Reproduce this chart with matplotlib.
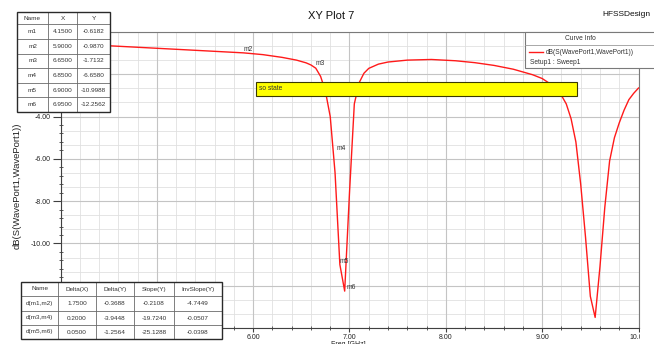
import matplotlib
matplotlib.use('Agg')
import numpy as np
import matplotlib.pyplot as plt
from matplotlib.patches import Rectangle
from matplotlib.ticker import MultipleLocator, FormatStrFormatter

plt.rcParams['font.family'] = ['Liberation Sans', 'DejaVu Sans']

# ---- data -------------------------------------------------------------
freq = [4.00, 4.15, 4.50, 5.00, 5.50, 5.90, 6.10, 6.30, 6.45, 6.55, 6.60, 6.65,
        6.70, 6.75, 6.80, 6.85, 6.90, 6.95, 7.00, 7.05, 7.10, 7.15, 7.20, 7.30,
        7.40, 7.60, 7.85, 8.10, 8.30, 8.50, 8.70, 8.90, 9.00, 9.10, 9.20, 9.25,
        9.30, 9.35, 9.40, 9.45, 9.50, 9.55, 9.60, 9.65, 9.70, 9.75, 9.80, 9.85,
        9.90, 9.95, 10.00]
s11 = [-0.60, -0.618, -0.65, -0.77, -0.89, -0.987, -1.07, -1.20, -1.33, -1.46, -1.56, -1.713,
       -2.10, -2.80, -4.00, -6.658, -10.999, -12.256, -7.60, -3.40, -2.40, -1.95, -1.72, -1.52,
       -1.42, -1.33, -1.30, -1.36, -1.45, -1.58, -1.76, -2.02, -2.20, -2.50, -3.00, -3.40,
       -4.10, -5.20, -7.20, -9.70, -12.50, -13.50, -11.10, -8.30, -6.10, -5.00, -4.30, -3.70,
       -3.20, -2.90, -2.65]

marker_names = ['m1', 'm2', 'm3', 'm4', 'm5', 'm6']
marker_x = [4.15, 5.90, 6.65, 6.85, 6.90, 6.95]
marker_y = [-0.6182, -0.9870, -1.7132, -6.6580, -10.9988, -12.2562]
labeled_markers = ['m2', 'm3', 'm4', 'm5', 'm6']

delta_names = ['d(m1,m2)', 'd(m3,m4)', 'd(m5,m6)']
delta_x = [1.7500, 0.2000, 0.0500]
delta_y = [-0.3688, -3.9448, -1.2564]
slope_y = [-0.2108, -19.7240, -25.1288]
inv_slope_y = [-4.7449, -0.0507, -0.0398]

title = 'XY Plot 7'
design = 'HFSSDesign'
trace_name = 'dB(S(WavePort1,WavePort1))'
setup_name = 'Setup1 : Sweep1'
note_text = 'so state'
x_label = 'Freq [GHz]'

# ---- figure -----------------------------------------------------------
W, H = 654, 344
fig = plt.figure(figsize=(W / 100, H / 100), dpi=100)
fig.patch.set_facecolor('white')

ax_l, ax_r, ax_t, ax_b = 60.5, 638.5, 32, 328
ax = fig.add_axes([ax_l / W, 1 - ax_b / H, (ax_r - ax_l) / W, (ax_b - ax_t) / H])
ax.plot(freq, s11, color='#ff1a1a', lw=1.0, zorder=3)
ax.set_xlim(4, 10)
ax.set_ylim(-14, 0)
ax.xaxis.set_major_locator(MultipleLocator(1))
ax.xaxis.set_minor_locator(MultipleLocator(0.2))
ax.yaxis.set_major_locator(MultipleLocator(2))
ax.yaxis.set_minor_locator(MultipleLocator(0.4))
ax.xaxis.set_major_formatter(FormatStrFormatter('%.2f'))
ax.yaxis.set_major_formatter(FormatStrFormatter('%.2f'))
ax.grid(which='major', color='#c4c4c4', lw=0.8, zorder=0)
ax.grid(which='minor', axis='x', color='#e0e0e0', lw=0.6, zorder=0)
# horizontal minor grid lines (three per major step)
for gy in np.arange(0, -14.01, -2 / 3):
    if abs(gy / 2 - round(gy / 2)) > 1e-6:
        ax.axhline(gy, color='#e0e0e0', lw=0.6, zorder=0)
ax.set_axisbelow(True)
ax.tick_params(which='major', direction='out', width=0.8, color='#404040',
               labelsize=5, labelcolor='#222222')
ax.tick_params(axis='y', which='major', length=6, pad=1.2)
ax.tick_params(axis='x', which='major', length=3, pad=1.0)
ax.tick_params(which='minor', direction='inout', length=3, width=0.6, color='#404040')
for s in ax.spines.values():
    s.set_color('#7a7a7a')
    s.set_linewidth(0.8)
ax.spines['left'].set_color('#404040')
ax.spines['bottom'].set_color('#404040')

label_offsets = {'m2': (0, 0), 'm3': (0, 1), 'm4': (1, 15), 'm5': (0, 0), 'm6': (1.5, 0)}
for n, mx, my in zip(marker_names, marker_x, marker_y):
    if n in labeled_markers:
        ax.annotate(n, (mx, my), xytext=label_offsets[n], textcoords='offset points',
                    ha='left', va='bottom', fontsize=4.8, color='#333333', zorder=4)

# ---- overlay in pixel coordinates ----------------------------------------
ov = fig.add_axes([0, 0, 1, 1])
ov.set_xlim(0, W)
ov.set_ylim(H, 0)
ov.axis('off')
ov.patch.set_alpha(0)

fig.text(331 / W, 1 - 16 / H, title, ha='center', va='center', fontsize=8, color='#111111')
fig.text(602 / W, 1 - 15 / H, design, ha='left', va='center', fontsize=6, color='#111111')
fig.text(17 / W, 1 - 186 / H, trace_name, rotation=90, ha='center', va='center',
         fontsize=6.8, color='#222222')
ov.text(348, 340.5, x_label, ha='center', va='top', fontsize=5, color='#222222')

# clip the "10.00" tick label like the reference
ov.add_patch(Rectangle((640, 329), 20, 20, facecolor='white', edgecolor='none', zorder=1))


def draw_table(xe, ye, rows, fs=4.6):
    ov.add_patch(Rectangle((xe[0], ye[0]), xe[-1] - xe[0], ye[-1] - ye[0],
                           facecolor='white', edgecolor='none', zorder=5))
    for x in xe[1:-1]:
        ov.plot([x, x], [ye[0], ye[-1]], color='#6a6a6a', lw=0.6, zorder=6)
    for y in ye[1:-1]:
        ov.plot([xe[0], xe[-1]], [y, y], color='#6a6a6a', lw=0.6, zorder=6)
    ov.add_patch(Rectangle((xe[0], ye[0]), xe[-1] - xe[0], ye[-1] - ye[0],
                           facecolor='none', edgecolor='#2a2a2a', lw=1.0, zorder=7))
    for r, row in enumerate(rows):
        yc = (ye[r] + ye[r + 1]) / 2
        for c, txt in enumerate(row):
            xc = (xe[c] + xe[c + 1]) / 2
            ov.text(xc, yc, txt, ha='center', va='center', fontsize=fs,
                    color='#333333', zorder=8)


top_rows = [['Name', 'X', 'Y']] + [[n, f'{x:.4f}', f'{y:.4f}']
                                   for n, x, y in zip(marker_names, marker_x, marker_y)]
draw_table([17, 48, 77, 110], [12, 24, 39, 54, 68, 83, 97, 112], top_rows)

bot_rows = [['Name', 'Delta(X)', 'Delta(Y)', 'Slope(Y)', 'InvSlope(Y)']] + [
    [n, f'{a:.4f}', f'{b:.4f}', f'{c:.4f}', f'{d:.4f}']
    for n, a, b, c, d in zip(delta_names, delta_x, delta_y, slope_y, inv_slope_y)]
draw_table([21, 58, 96, 134, 174, 222], [282, 296, 311, 325, 339], bot_rows)

# yellow note box
ov.add_patch(Rectangle((256, 82), 321, 14, facecolor='#ffff00', edgecolor='#3a3a00',
                       lw=0.8, zorder=5))
ov.text(259, 89, note_text, ha='left', va='center', fontsize=4.8, color='#333333', zorder=6)

# curve info legend
ov.add_patch(Rectangle((524.5, 32), 140, 36, facecolor='white', edgecolor='#7a7a7a',
                       lw=0.8, zorder=5))
ov.plot([524.5, 660], [45, 45], color='#9a9a9a', lw=0.6, zorder=6)
ov.text(580, 38.5, 'Curve Info', ha='center', va='center', fontsize=4.8, color='#333333', zorder=6)
ov.plot([529, 543], [52, 52], color='#ff1a1a', lw=1.0, zorder=6)
ov.text(546, 52, trace_name, ha='left', va='center', fontsize=4.8, color='#333333', zorder=6)
ov.text(530, 62, setup_name, ha='left', va='center', fontsize=4.8, color='#333333', zorder=6)

fig.savefig('out.png', dpi=100, facecolor='white')
